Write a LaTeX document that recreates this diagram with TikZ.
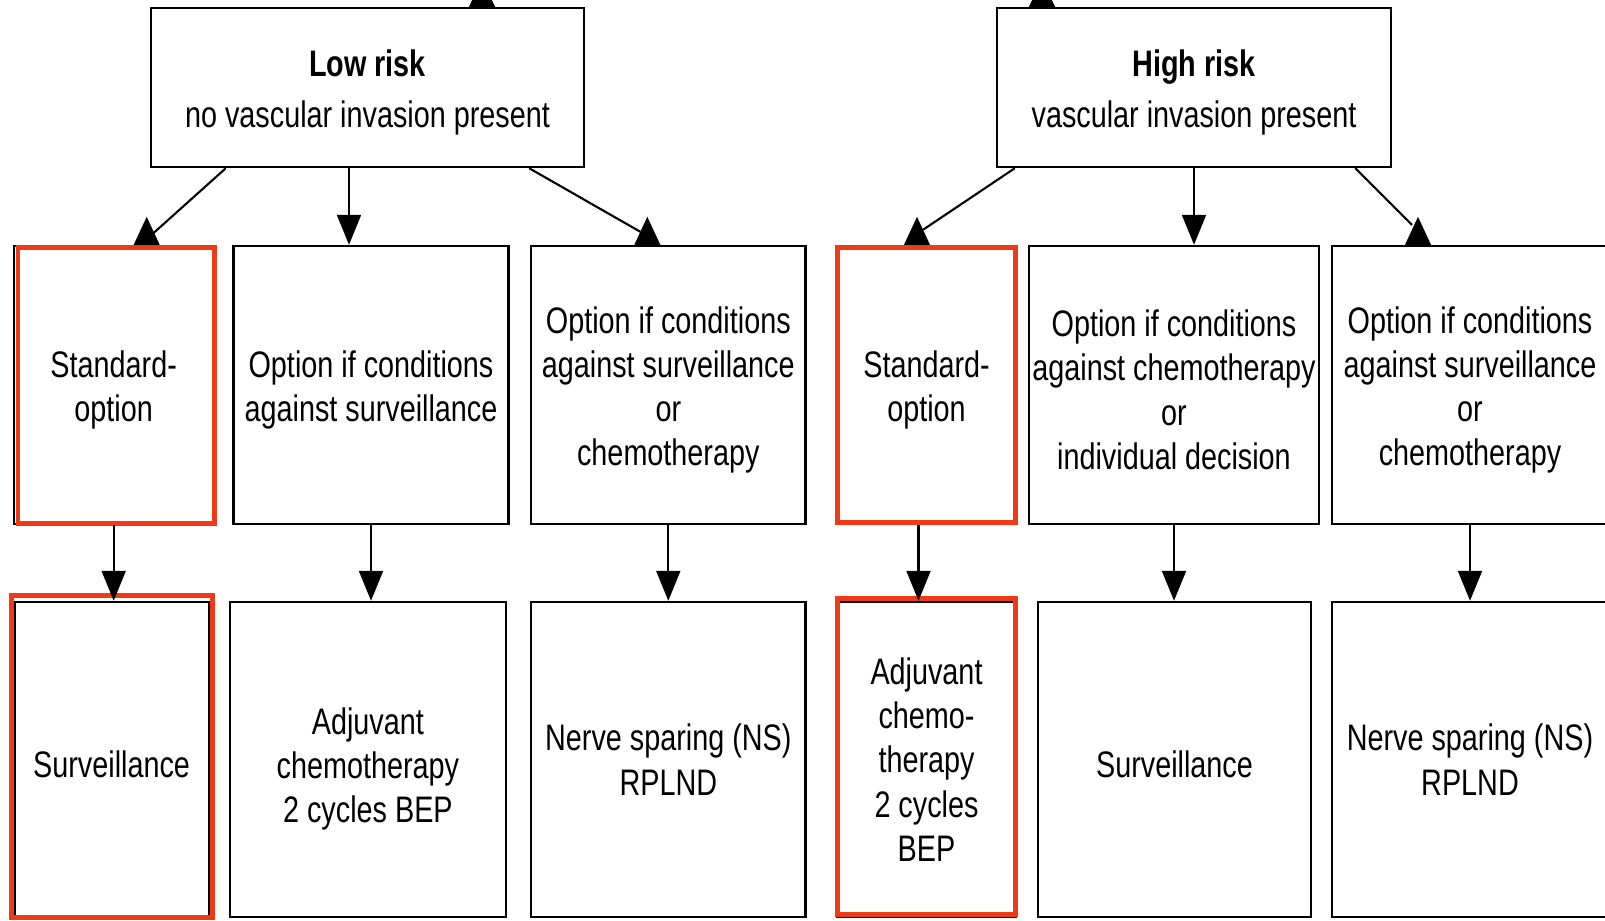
\documentclass[tikz,border=0pt]{standalone}
\usepackage{fontspec}
\setmainfont[FakeStretch=0.78]{Liberation Sans}
\usetikzlibrary{arrows.meta}

\definecolor{stdred}{RGB}{238,58,22}

% upright tip sitting on the top edge of a box (#1 = box, #2 = shift)
\newcommand{\uptip}[2]{\fill ([xshift=#2]#1.north) ++(-0.13,0) -- ++(0.26,0) -- ++(-0.13,0.28) -- cycle;}
% taller first line, pushes the text a little down
\newcommand{\hstrut}{\rule{0pt}{10.4pt}}

\begin{document}
\begin{tikzpicture}[
  box/.style={draw, line width=0.7pt, align=center, inner sep=1pt,
    font=\fontsize{10.5}{12.6}\selectfont},
  riskbox/.style={box, minimum height=1.59cm},
  optbox/.style={box, minimum height=2.78cm},
  treatbox/.style={box, minimum height=3.15cm},
  mark red/.style={draw=stdred, line width=1.4pt},
  link/.style={draw, line width=0.6pt},
  pointer/.style={link, -{Triangle[length=3mm, width=2.4mm]}}
]
\useasboundingbox (0,0) rectangle (16.05,-9.2);
\clip (0,0) rectangle (16.05,-9.2);

% Risk groups
\node[riskbox, minimum width=4.33cm] (lowrisk) at (3.675,-0.875)
  {\hstrut\textbf{Low risk}\\[2pt] no vascular invasion present};
\node[riskbox, minimum width=3.94cm] (highrisk) at (11.94,-0.875)
  {\hstrut\textbf{High risk}\\[2pt] vascular invasion present};

% Options
\node[optbox, minimum width=1.99cm] (lrstd) at (1.137,-3.85) {\hstrut Standard-\\option};
\node[optbox, minimum width=2.75cm] (lrnosurv) at (3.71,-3.85)
  {\hstrut Option if conditions\\against surveillance};
\node[optbox, minimum width=2.745cm] (lrneither) at (6.683,-3.85)
  {\hstrut Option if conditions\\against surveillance\\or\\chemotherapy};
\node[optbox, minimum width=1.79cm] (hrstd) at (9.265,-3.85) {\hstrut Standard-\\option};
\node[optbox, minimum width=2.86cm] (hrnochemo) at (11.74,-3.85)
  {\hstrut Option if conditions\\against chemotherapy\\or\\individual decision};
\node[optbox, minimum width=2.76cm] (hrneither) at (14.70,-3.85)
  {\hstrut Option if conditions\\against surveillance\\or\\chemotherapy};

% Treatments
\node[treatbox, minimum width=1.945cm] (lrsurv) at (1.116,-7.595) {\hstrut Surveillance};
\node[treatbox, minimum width=2.757cm] (lradj) at (3.679,-7.595)
  {\rule{0pt}{13pt}Adjuvant\\chemotherapy\\2 cycles BEP};
\node[treatbox, minimum width=2.745cm] (lrrplnd) at (6.683,-7.595)
  {Nerve sparing (NS)\\RPLND};
\node[treatbox, minimum width=1.79cm] (hradj) at (9.265,-7.595)
  {Adjuvant\\chemo-\\therapy\\2 cycles\\BEP};
\node[treatbox, minimum width=2.73cm] (hrsurv) at (11.745,-7.595) {\hstrut Surveillance};
\node[treatbox, minimum width=2.76cm] (hrrplnd) at (14.70,-7.595)
  {Nerve sparing (NS)\\RPLND};

% Red marks on the standard options
\draw[mark red] ([xshift=0.05cm,yshift=-0.03cm]lrstd.north west) rectangle ([yshift=0.02cm]lrstd.south east);
\draw[mark red] ([xshift=-0.02cm,yshift=0.05cm]lrsurv.north west) rectangle ([xshift=0.02cm,yshift=0.01cm]lrsurv.south east);
\draw[mark red] ([xshift=0.02cm,yshift=-0.03cm]hrstd.north west) rectangle ([xshift=-0.02cm,yshift=0.03cm]hrstd.south east);
\draw[mark red] ([xshift=0.02cm,yshift=0.02cm]hradj.north west) rectangle ([xshift=-0.02cm,yshift=0.04cm]hradj.south east);

% Incoming arrows from above (cut off)
\coordinate (lrin) at (4.9,0.6);
\coordinate (hrin) at (10.3,0.6);
\draw[link] (lrin) -- ([xshift=1.145cm,yshift=0.26cm]lowrisk.north);
\uptip{lowrisk}{1.145cm}
\draw[link] (hrin) -- ([xshift=-1.52cm,yshift=0.26cm]highrisk.north);
\uptip{highrisk}{-1.52cm}

% Risk group -> options
\draw[link] ([xshift=0.76cm]lowrisk.south west) -- ([xshift=0.39cm,yshift=0.11cm]lrstd.north);
\uptip{lrstd}{0.33cm}
\draw[pointer] ([xshift=-0.185cm]lowrisk.south) -- ([xshift=-0.185cm]lowrisk.south |- lrnosurv.north);
\draw[link] ([xshift=-0.56cm]lowrisk.south east) -- ([xshift=-0.28cm,yshift=0.13cm]lrneither.north);
\uptip{lrneither}{-0.21cm}

\draw[link] ([xshift=0.19cm]highrisk.south west) -- ([xshift=-0.035cm,yshift=0.15cm]hrstd.north);
\uptip{hrstd}{-0.095cm}
\draw[pointer] (highrisk.south) -- (highrisk.south |- hrnochemo.north);
\draw[link] ([xshift=-0.37cm]highrisk.south east) -- ([xshift=-0.58cm,yshift=0.2cm]hrneither.north);
\uptip{hrneither}{-0.52cm}

% Options -> treatments
\draw[pointer] (lrstd.south) -- (lrstd.south |- lrsurv.north);
\draw[pointer] (lrnosurv.south) -- (lrnosurv.south |- lradj.north);
\draw[pointer] (lrneither.south) -- (lrneither.south |- lrrplnd.north);
\draw[pointer] ([xshift=-0.08cm]hrstd.south) -- ([xshift=-0.08cm]hrstd.south |- hradj.north);
\draw[pointer] (hrnochemo.south) -- (hrnochemo.south |- hrsurv.north);
\draw[pointer] (hrneither.south) -- (hrneither.south |- hrrplnd.north);

\end{tikzpicture}
\end{document}
